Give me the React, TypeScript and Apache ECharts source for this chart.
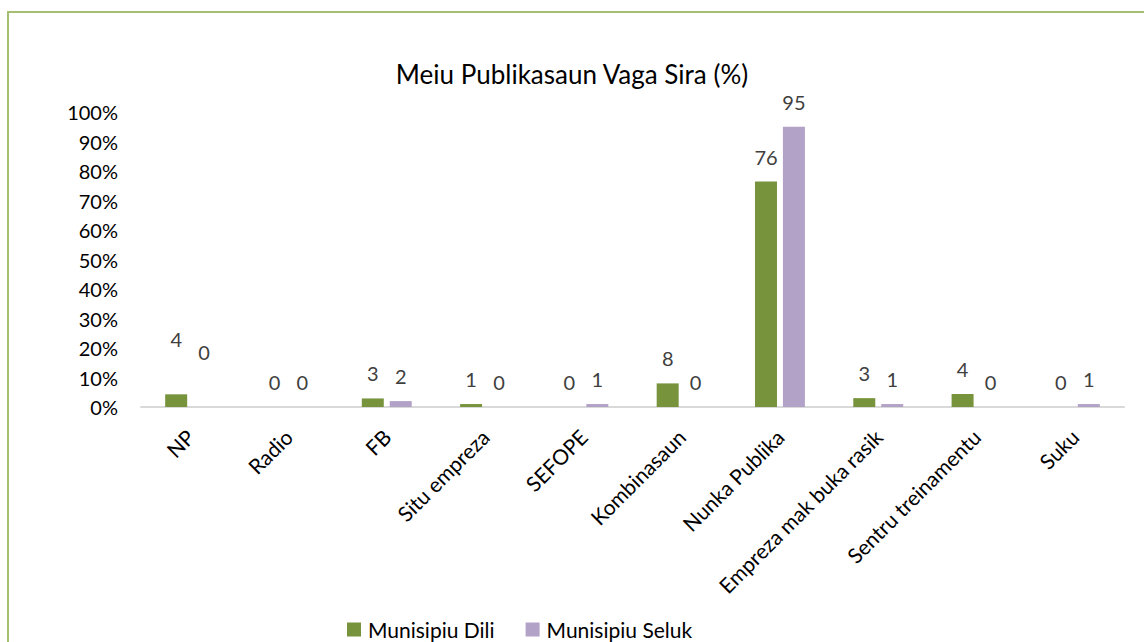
import React, { useEffect, useRef } from "react";
import * as echarts from "echarts";

const categories = [
  "NP",
  "Radio",
  "FB",
  "Situ empreza",
  "SEFOPE",
  "Kombinasaun",
  "Nunka Publika",
  "Empreza mak buka rasik",
  "Sentru treinamentu",
  "Suku",
];
const dili = [4.3, 0, 2.9, 1, 0, 8, 76.4, 3, 4.4, 0];
const seluk = [0, 0, 2, 0, 1, 0, 95, 1, 0, 1];
const seriesNames = ["Munisipiu Dili", "Munisipiu Seluk"];
const yTicks = { min: 0, max: 100, interval: 10 };

const FONT = "Lato, 'Open Sans', sans-serif";

export default function App() {
  const ref = useRef<HTMLDivElement>(null);
  useEffect(() => {
    document.body.style.margin = "0";
    if (!ref.current) return;
    const chart = echarts.init(ref.current, undefined, { renderer: "svg" });
    const labelFor = (i: number) => ({
      show: true,
      position: "top",
      distance: i === 0 ? 45 : 15,
      color: "#404040",
      fontSize: 20,
      fontFamily: FONT,
      formatter: (p: any) => String(Math.round(p.value)),
    });
    const mk = (vals: number[]) => vals.map((v, i) => ({ value: v, label: labelFor(i) }));
    chart.setOption({
      animation: false,
      backgroundColor: "#ffffff",
      title: {
        text: "Meiu Publikasaun Vaga Sira (%)",
        left: "center",
        top: 56,
        textStyle: { fontFamily: FONT, fontSize: 26, fontWeight: "normal", color: "#000" },
      },
      graphic: [
        {
          type: "rect",
          z: -10,
          shape: { x: 8, y: 12, width: 1160, height: 700 },
          style: { fill: "none", stroke: "#A3BF6F", lineWidth: 2 },
        },
      ],
      legend: {
        left: 342,
        top: 614,
        itemWidth: 14,
        itemHeight: 14,
        itemGap: 31,
        icon: "rect",
        textStyle: { fontFamily: FONT, fontSize: 21, color: "#000", padding: [0, 0, 0, 2] },
        data: seriesNames,
      },
      grid: { left: 141, right: 20, top: 112, bottom: 235 },
      xAxis: {
        type: "category",
        data: categories,
        axisLine: { lineStyle: { color: "#D9D9D9", width: 2 } },
        axisTick: { show: false },
        axisLabel: {
          rotate: 45,
          interval: 0,
          margin: 26,
          fontFamily: FONT,
          fontSize: 21,
          color: "#000",
        },
      },
      yAxis: {
        type: "value",
        min: yTicks.min,
        max: yTicks.max,
        interval: yTicks.interval,
        splitLine: { show: false },
        axisLine: { show: false },
        axisTick: { show: false },
        axisLabel: {
          formatter: "{value}%",
          margin: 23,
          fontFamily: FONT,
          fontSize: 20,
          color: "#000",
        },
      },
      series: [
        {
          name: seriesNames[0],
          type: "bar",
          data: mk(dili),
          barWidth: 22,
          barGap: "27%",
          itemStyle: { color: "#77933C" },
        },
        {
          name: seriesNames[1],
          type: "bar",
          data: mk(seluk),
          barWidth: 22,
          itemStyle: { color: "#B3A2C7" },
        },
      ],
    });
    return () => chart.dispose();
  }, []);
  return <div ref={ref} style={{ width: 1144, height: 642 }} />;
}
